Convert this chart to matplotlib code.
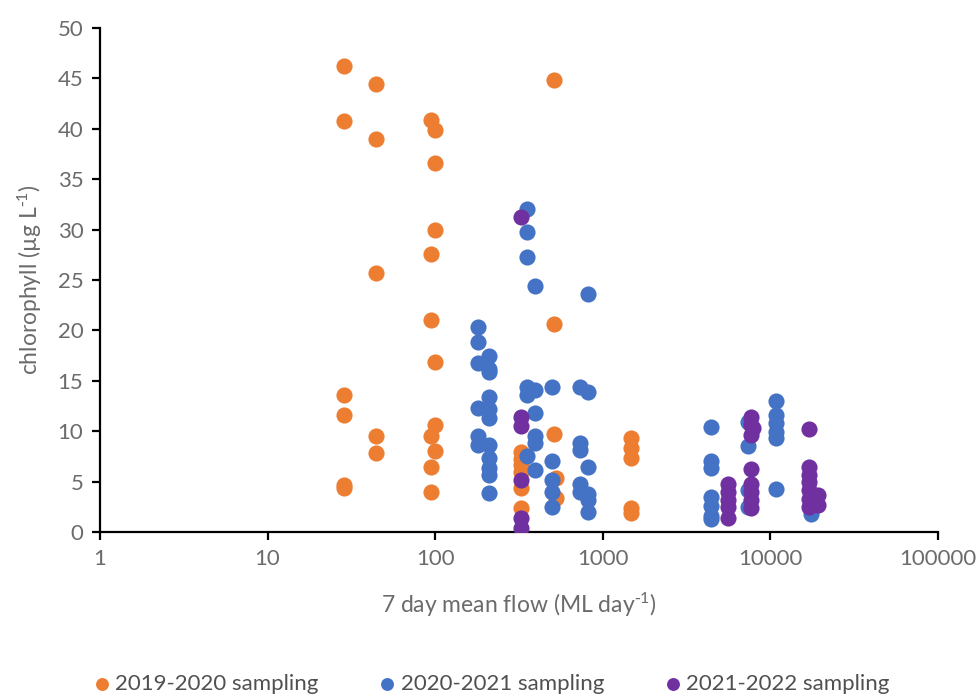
import numpy as np
import matplotlib
matplotlib.use("Agg")
import matplotlib.pyplot as plt

plt.rcParams['font.family'] = ['Lato', 'DejaVu Sans']
plt.rcParams['mathtext.default'] = 'regular'

# 2019-2020 sampling
flow_1920 = [28.6]*6 + [44.3]*5 + [94.5]*6 + [100]*6 + [324]*6 + [512]*3 + [525]*2 + [1473]*5
chl_1920 = [46.2, 40.8, 13.6, 11.6, 4.7, 4.4,
            44.4, 39.0, 25.7, 9.5, 7.8,
            40.9, 27.6, 21.0, 9.5, 6.5, 4.0,
            39.9, 36.6, 30.0, 16.9, 10.6, 8.0,
            7.9, 7.2, 6.6, 6.0, 4.4, 2.4,
            44.8, 20.6, 9.7, 5.4, 3.4,
            9.3, 8.3, 7.3, 2.4, 1.9]

# 2020-2021 sampling
flow_2021 = [180]*6 + [209]*11 + [353]*6 + [394]*6 + [496]*5 + [731]*5 + [816]*6 + [4400]*7 + [7400]*4 + [10800]*6 + [17500]*2
chl_2021 = [20.3, 18.9, 16.8, 12.3, 9.5, 8.6,
            17.5, 15.9, 13.4, 12.2, 11.3, 8.6, 7.3, 6.4, 5.7, 3.9, 16.2,
            32.0, 29.8, 27.3, 14.4, 13.6, 7.5,
            24.4, 14.1, 11.8, 9.5, 8.8, 6.2,
            14.4, 7.0, 5.2, 4.0, 2.5,
            14.4, 8.8, 8.1, 4.8, 4.0,
            23.6, 13.9, 6.5, 3.8, 3.2, 2.0,
            10.4, 7.0, 6.4, 3.5, 2.6, 1.6, 1.3,
            10.9, 8.5, 4.2, 2.5,
            13.0, 11.6, 10.8, 9.9, 9.3, 4.3,
            1.8, 2.5]

# 2021-2022 sampling
flow_2122 = [324]*6 + [5600]*5 + [7650]*8 + [7900] + [17100]*7 + [19300]*2
chl_2122 = [31.3, 11.4, 10.5, 5.2, 1.4, 0.4,
            4.8, 4.0, 3.2, 2.5, 1.4,
            11.4, 10.6, 9.6, 6.3, 4.8, 4.0, 3.2, 2.4,
            10.3,
            10.2, 6.5, 5.7, 5.0, 4.2, 3.3, 2.5,
            3.7, 2.7]

labels = ['2019-2020 sampling', '2020-2021 sampling', '2021-2022 sampling']
colors = ['#ED7D31', '#4472C4', '#7030A0']

fig = plt.figure(figsize=(9.8, 6.95), dpi=100)
ax = fig.add_axes([0.102, 0.2345, 0.855, 0.7252])

ax.scatter(flow_1920, chl_1920, s=135, color=colors[0], label=labels[0], linewidths=0, zorder=3)
ax.scatter(flow_2021, chl_2021, s=135, color=colors[1], label=labels[1], linewidths=0, zorder=4)
ax.scatter(flow_2122, chl_2122, s=135, color=colors[2], label=labels[2], linewidths=0, zorder=5)

ax.set_xscale('log')
ax.set_xlim(1, 100000)
ax.set_ylim(0, 50)
ax.set_xticks([1, 10, 100, 1000, 10000, 100000])
ax.set_xticklabels(['1', '10', '100', '1000', '10000', '100000'])
ax.minorticks_off()
ax.set_yticks(np.arange(0, 51, 5))

for s in ['top', 'right']:
    ax.spines[s].set_visible(False)
for s in ['left', 'bottom']:
    ax.spines[s].set_linewidth(1.6)
    ax.spines[s].set_color('black')
ax.tick_params(axis='both', direction='out', length=6, width=1.6, colors='black',
               labelcolor='#6b6b6b', labelsize=16, pad=6)

ax.set_xlabel(r'7 day mean flow (ML day$^{\text{-}1}$)', fontsize=16.5, color='#6b6b6b', labelpad=16)
ax.set_ylabel(r'chlorophyll (µg L$^{\text{-}1}$)', fontsize=16.5, color='#6b6b6b', labelpad=10)

leg = fig.legend(loc='center', bbox_to_anchor=(0.5, 0.016), ncol=3, frameon=False,
                 fontsize=16, markerscale=0.8, handletextpad=0.1, columnspacing=2.6,
                 handlelength=1.0)
for t in leg.get_texts():
    t.set_color('#505050')

fig.savefig('out.png', dpi=100)
